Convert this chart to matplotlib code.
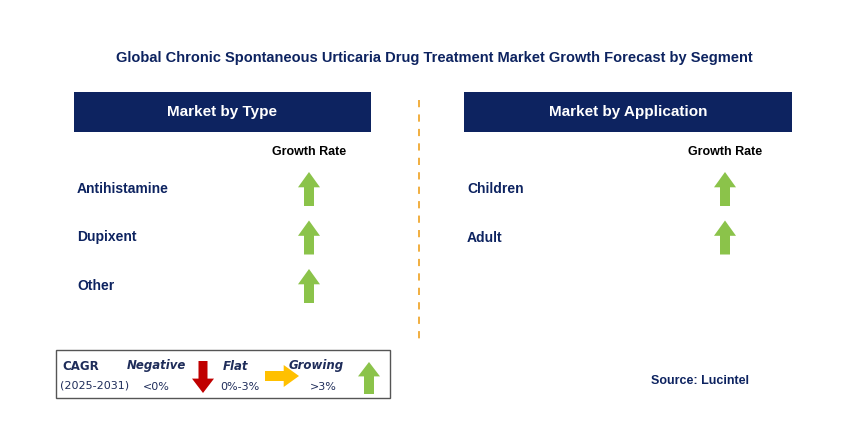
import matplotlib
matplotlib.use('Agg')
import matplotlib.pyplot as plt
from matplotlib.patches import Rectangle, Polygon

# Data
title = 'Global Chronic Spontaneous Urticaria Drug Treatment Market Growth Forecast by Segment'
type_segments = ['Antihistamine', 'Dupixent', 'Other']
type_growth = ['up', 'up', 'up']
app_segments = ['Children', 'Adult']
app_growth = ['up', 'up']

NAVY = '#0D2360'
GREEN = '#8BC34A'
RED = '#C00000'
ORANGE = '#FFC000'
TXT = '#1F2D5A'

fig = plt.figure(figsize=(8.56, 4.45), dpi=100)
ax = fig.add_axes([0, 0, 1, 1])
ax.set_xlim(0, 856)
ax.set_ylim(445, 0)
ax.axis('off')


def arrow(cx, cy, d, color, w=22, h=34, sw=10):
    hh = h * 0.45
    if d == 'up':
        top, bot = cy - h / 2, cy + h / 2
        pts = [(cx, top), (cx + w / 2, top + hh), (cx + sw / 2, top + hh), (cx + sw / 2, bot),
               (cx - sw / 2, bot), (cx - sw / 2, top + hh), (cx - w / 2, top + hh)]
    elif d == 'down':
        top, bot = cy - h / 2, cy + h / 2
        pts = [(cx, bot), (cx + w / 2, bot - hh), (cx + sw / 2, bot - hh), (cx + sw / 2, top),
               (cx - sw / 2, top), (cx - sw / 2, bot - hh), (cx - w / 2, bot - hh)]
    else:
        l, r = cx - h / 2, cx + h / 2
        pts = [(r, cy), (r - hh, cy - w / 2), (r - hh, cy - sw / 2), (l, cy - sw / 2),
               (l, cy + sw / 2), (r - hh, cy + sw / 2), (r - hh, cy + w / 2)]
    ax.add_patch(Polygon(pts, closed=True, facecolor=color, edgecolor='none'))


ax.text(434, 58, title, ha='center', va='center', fontsize=10.5, fontweight='bold',
        color=NAVY, family='Liberation Sans')

# divider
ax.plot([419, 419], [100, 340], color='#F0A830', lw=1.3, ls=(0, (4, 4)))


def panel(x0, x1, header, segs, growth, arrow_x):
    ax.add_patch(Rectangle((x0, 92), x1 - x0, 40, facecolor=NAVY, edgecolor='none'))
    ax.text((x0 + x1) / 2, 112, header, ha='center', va='center', fontsize=11,
            fontweight='bold', color='white', family='Liberation Sans')
    ax.text(arrow_x, 152, 'Growth Rate', ha='center', va='center', fontsize=9,
            fontweight='bold', color='black', family='Liberation Sans')
    for i, (s, g) in enumerate(zip(segs, growth)):
        y = 189 + i * 48.5
        ax.text(x0 + 3, y, s, ha='left', va='center', fontsize=10, fontweight='bold',
                color=NAVY, family='Liberation Sans')
        arrow(arrow_x, y, g, GREEN)


panel(74, 371, 'Market by Type', type_segments, type_growth, 309)
panel(464, 792, 'Market by Application', app_segments, app_growth, 725)

# legend box
ax.add_patch(Rectangle((56, 350), 334, 48, facecolor='white', edgecolor='#555555', lw=1))
lf = 'DejaVu Sans'
ax.text(62, 367, 'CAGR', fontsize=8.5, fontweight='bold', color=TXT, va='center', family=lf)
ax.text(60, 386, '(2025-2031)', fontsize=8, color=TXT, va='center', family=lf)
ax.text(156, 366, 'Negative', fontsize=8.5, fontweight='bold', style='italic', color=TXT,
        ha='center', va='center', family=lf)
ax.text(156, 387, '<0%', fontsize=8, color=TXT, ha='center', va='center', family=lf)
arrow(203, 377, 'down', RED, w=22, h=32, sw=9)
ax.text(236, 366, 'Flat', fontsize=8.5, fontweight='bold', style='italic', color=TXT,
        ha='center', va='center', family=lf)
ax.text(240, 387, '0%-3%', fontsize=8, color=TXT, ha='center', va='center', family=lf)
arrow(282, 376, 'right', ORANGE, w=22, h=34, sw=10)
ax.text(316, 366, 'Growing', fontsize=8.5, fontweight='bold', style='italic', color=TXT,
        ha='center', va='center', family=lf)
ax.text(323, 387, '>3%', fontsize=8, color=TXT, ha='center', va='center', family=lf)
arrow(369, 378, 'up', GREEN, w=22, h=32, sw=10)

ax.text(700, 381, 'Source: Lucintel', ha='center', va='center', fontsize=9,
        fontweight='bold', color=NAVY, family='Liberation Sans')

fig.savefig('out.png', dpi=100, facecolor='white')
